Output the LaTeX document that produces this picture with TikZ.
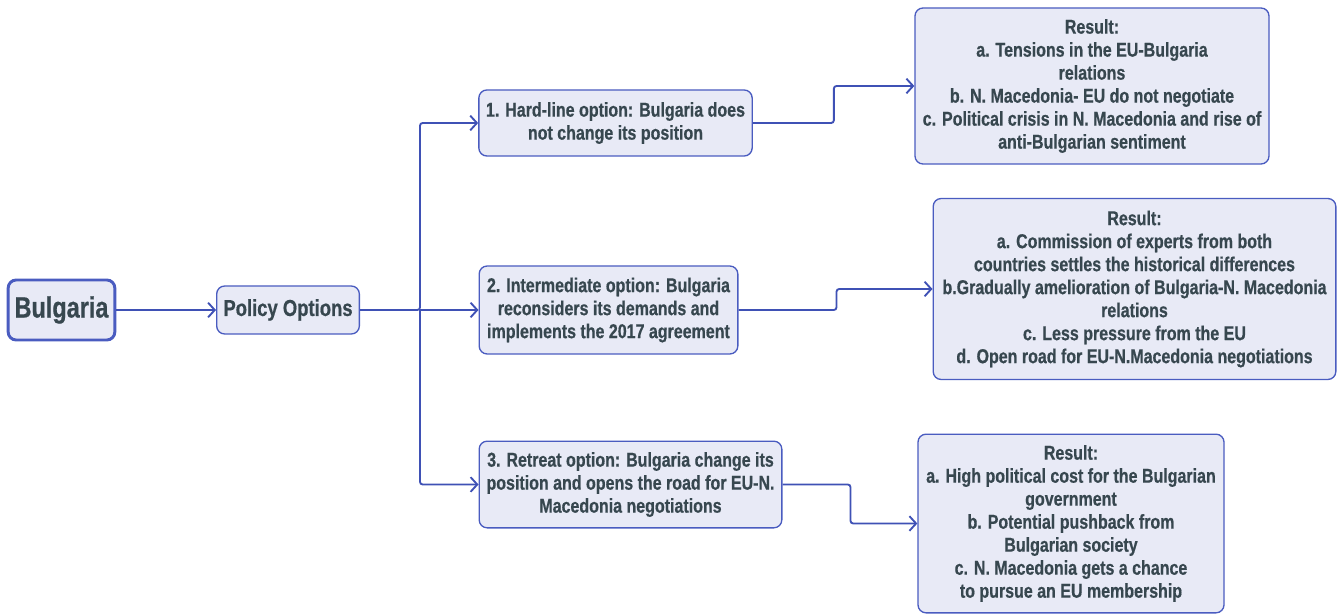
\documentclass[tikz,border=0pt]{standalone}
\usepackage{fontspec}
\newfontfamily\boxfont{Liberation Sans Bold}[FakeStretch=0.8,FakeBold=0.6]
\usepackage{tikz}
\usetikzlibrary{arrows.meta}
\definecolor{boxfill}{HTML}{E8EAF6}
\definecolor{boxline}{HTML}{4A5CC0}
\definecolor{txt}{HTML}{37474F}
\definecolor{wire}{HTML}{3F51B5}

\begin{document}
\begin{tikzpicture}[x=0.75pt,y=-0.75pt,
    box/.style={draw=boxline,fill=boxfill,line width=1pt,rounded corners=6pt,align=center,
        text=txt,font=\boxfont\fontsize{15}{17.25}\selectfont,inner sep=2pt},
    arr/.style={wire,line width=1.4pt,rounded corners=2pt,-{Straight Barb[length=5pt,width=11pt,line width=1.4pt]}}]
    \useasboundingbox (0,0) rectangle (1342,616);
    \node[box,line width=2.2pt,minimum width=80pt,minimum height=45pt,font=\boxfont\fontsize{22}{25}\selectfont] (bg) at (61.5,310) {Bulgaria};
    \node[box,minimum width=107pt,minimum height=36pt,font=\boxfont\fontsize{17.3}{20}\selectfont] (po) at (288,310) {Policy Options};
    \node[box,minimum width=205pt,minimum height=49.5pt] (o1) at (615.5,123) {1. Hard-line option: Bulgaria does\\not change its position};
    \node[box,minimum width=194pt,minimum height=66pt] (o2) at (608.5,310) {2. Intermediate option: Bulgaria\\reconsiders its demands and\\implements the 2017 agreement};
    \node[box,minimum width=227pt,minimum height=65pt] (o3) at (630.5,484.5) {3. Retreat option: Bulgaria change its\\position and opens the road for EU-N.\\Macedonia negotiations};
    \node[box,minimum width=265.5pt,minimum height=117pt] (r1) at (1092,86) {Result:\\a. Tensions in the EU-Bulgaria\\relations\\b. N. Macedonia- EU do not negotiate\\c. Political crisis in N. Macedonia and rise of\\anti-Bulgarian sentiment};
    \node[box,minimum width=302pt,minimum height=135.75pt] (r2) at (1134.5,289) {Result:\\a. Commission of experts from both\\countries settles the historical differences\\b.Gradually amelioration of Bulgaria-N. Macedonia\\relations\\c. Less pressure from the EU\\d. Open road for EU-N.Macedonia negotiations};
    \node[box,minimum width=229.5pt,minimum height=134pt] (r3) at (1071,523.5) {Result:\\a. High political cost for the Bulgarian\\government\\b. Potential pushback from\\Bulgarian society\\c. N. Macedonia gets a chance\\to pursue an EU membership};
    \coordinate (split) at (420,310);
    \draw[arr] (bg) -- (po);
    \draw[arr] (po.east) -- (split) |- (o1.west);
    \draw[arr] (split) -- (o2.west);
    \draw[arr] (split) |- (o3.west);
    \draw[arr] (o1.east) -- ++(81,0) |- (r1.west);
    \draw[arr] (o2.east) -- ++(98,0) |- (r2.west);
    \draw[arr] (o3.east) -- ++(68,0) |- (r3.west);
\end{tikzpicture}
\end{document}
